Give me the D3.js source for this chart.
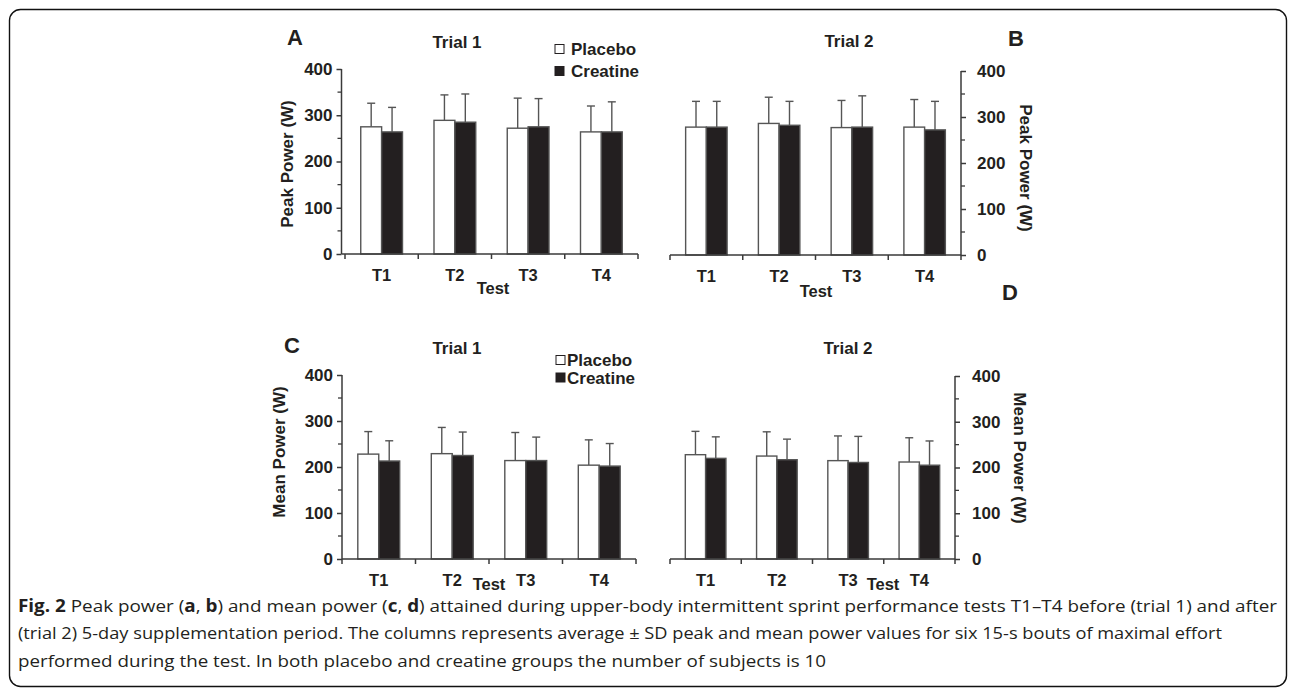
<!DOCTYPE html>
<html>
<head>
<meta charset="utf-8">
<script src="https://cdn.jsdelivr.net/npm/d3@7"></script>
<style>
  body { margin: 0; background: #fff; }
  svg text { font-family: "Liberation Sans", Arial, sans-serif; }
  .cap text { font-family: "Open Sans", sans-serif; fill: #231f20; }
</style>
</head>
<body>
<svg id="fig" width="1296" height="695"></svg>
<script>
// tests and series
var tests = ["T1", "T2", "T3", "T4"];
var groups = ["Placebo", "Creatine"];

// peak power (W), mean and mean+SD
var peakTrial1 = [[275, 264], [289, 285], [272, 275], [264, 264]];
var peakTrial1Err = [[326, 317], [344, 346], [337, 336], [320, 329]];
var peakTrial2 = [[278, 278], [286, 282], [277, 278], [278, 272]];
var peakTrial2Err = [[334, 334], [343, 334], [336, 346], [338, 334]];

// mean power (W)
var meanTrial1 = [[228, 213], [229, 225], [214, 214], [204, 202]];
var meanTrial1Err = [[277, 257], [286, 276], [275, 265], [259, 251]];
var meanTrial2 = [[228, 220], [225, 217], [215, 211], [212, 205]];
var meanTrial2Err = [[279, 267], [278, 262], [269, 268], [265, 258]];

var yTicks = [0, 100, 200, 300, 400];
var yMinor = [50, 150, 250, 350];

var svg = d3.select("#fig");
var ink = "#231f20", axisCol = "#3a3a3a";
var fs = "17px";

// rounded frame round the whole figure
svg.append("rect")
    .attr("x", 9.5).attr("y", 9.5)
    .attr("width", 1277).attr("height", 677)
    .attr("rx", 11)
    .attr("fill", "none").attr("stroke", "#111").attr("stroke-width", 1.4);

function panel(o) {
  var x = d3.scaleBand().domain(tests).range(o.xr);
  var inner = d3.scaleBand().domain(groups)
      .range([0, x.bandwidth() * 0.57]);
  var y = d3.scaleLinear().domain([0, 400]).range(o.yr);
  var off = (x.bandwidth() - inner.range()[1]) / 2;

  var g = svg.append("g");

  // bars
  tests.forEach(function(t, i) {
    groups.forEach(function(s, j) {
      var bx = x(t) + off + inner(s);
      var top = y(o.vals[i][j]);
      var errTop = y(o.errs[i][j]);
      var cx = bx + inner.bandwidth() / 2;
      // error bar (upper only)
      g.append("line")
          .attr("x1", cx).attr("x2", cx)
          .attr("y1", top).attr("y2", errTop)
          .attr("stroke", "#555").attr("stroke-width", 1.4);
      g.append("line")
          .attr("x1", cx - 4).attr("x2", cx + 4)
          .attr("y1", errTop).attr("y2", errTop)
          .attr("stroke", "#555").attr("stroke-width", 1.4);
      g.append("rect")
          .attr("x", bx).attr("y", top)
          .attr("width", inner.bandwidth())
          .attr("height", y(0) - top)
          .attr("fill", j === 0 ? "#fff" : ink)
          .attr("stroke", "#555").attr("stroke-width", 1.4);
    });
  });

  // x axis: baseline with ticks at band edges
  var y0 = y(0);
  g.append("line")
      .attr("x1", o.left ? o.yAxisX : o.xr[0]).attr("x2", o.left ? o.xr[1] : o.yAxisX)
      .attr("y1", y0).attr("y2", y0)
      .attr("stroke", axisCol).attr("stroke-width", 1.5);
  var edges = tests.map(function(t) { return x(t); }).concat([o.xr[1]]);
  edges.forEach(function(e) {
    g.append("line").attr("x1", e).attr("x2", e)
        .attr("y1", y0).attr("y2", y0 + 5)
        .attr("stroke", axisCol).attr("stroke-width", 1.5);
  });
  tests.forEach(function(t) {
    g.append("text")
        .attr("x", x(t) + x.bandwidth() / 2).attr("y", y0 + 27)
        .attr("text-anchor", "middle")
        .style("font-size", "16.5px").style("font-weight", "bold").style("fill", ink)
        .text(t);
  });
  g.append("text")
      .attr("x", o.testX).attr("y", o.testY)
      .attr("text-anchor", "middle")
      .style("font-size", "16.5px").style("font-weight", "bold").style("fill", ink)
      .text("Test");

  // y axis
  var axis = (o.left ? d3.axisLeft(y) : d3.axisRight(y))
      .tickValues(yTicks).tickSize(5).tickPadding(o.pad);
  var ya = g.append("g")
      .attr("transform", "translate(" + o.yAxisX + ",0)")
      .call(axis);
  ya.select(".domain").attr("stroke", axisCol).attr("stroke-width", 1.5)
      .attr("d", "M0," + y(400) + "V" + y(0));
  ya.selectAll(".tick line").attr("stroke", axisCol).attr("stroke-width", 1.5);
  ya.selectAll(".tick text")
      .style("font-size", fs).style("font-weight", "bold")
      .attr("fill", ink).attr("font-family", "Liberation Sans, Arial, sans-serif");
  yMinor.forEach(function(v) {
    g.append("line")
        .attr("x1", o.yAxisX).attr("x2", o.yAxisX + (o.left ? -4 : 4))
        .attr("y1", y(v)).attr("y2", y(v))
        .attr("stroke", axisCol).attr("stroke-width", 1.3);
  });
  g.append("text")
      .attr("transform", "translate(" + o.titleX + "," + o.titleY + ") rotate(" + (o.left ? -90 : 90) + ")")
      .attr("text-anchor", "middle").attr("dy", "0.35em")
      .style("font-size", fs).style("font-weight", "bold").style("fill", ink)
      .text(o.yTitle);

  // panel letter and trial title
  g.append("text")
      .attr("x", o.letterX).attr("y", o.letterY)
      .attr("text-anchor", "middle")
      .style("font-size", "22px").style("font-weight", "bold").style("fill", ink)
      .text(o.letter);
  g.append("text")
      .attr("x", o.trialX).attr("y", o.trialY)
      .attr("text-anchor", "middle")
      .style("font-size", fs).style("font-weight", "bold").style("fill", ink)
      .text(o.trial);

  // legend
  if (o.legend) {
    groups.forEach(function(s, j) {
      var ly = o.legend.y + j * o.legend.gap;
      g.append("rect")
          .attr("x", o.legend.x).attr("y", ly - 4.5)
          .attr("width", 9).attr("height", 9)
          .attr("fill", j === 0 ? "#fff" : ink)
          .attr("stroke", ink).attr("stroke-width", 1);
      g.append("text")
          .attr("x", o.legend.tx).attr("y", ly).attr("dy", "0.36em")
          .style("font-size", fs).style("font-weight", "bold").style("fill", ink)
          .text(s);
    });
  }
}

panel({ xr: [345, 638], yr: [254, 69], yAxisX: 341.5, left: true, pad: 4,
  vals: peakTrial1, errs: peakTrial1Err, yTitle: "Peak Power (W)",
  titleX: 287, titleY: 164, letter: "A", letterX: 295, letterY: 45,
  trial: "Trial 1", trialX: 457, trialY: 48, testX: 493, testY: 294,
  legend: { x: 555, tx: 571, y: 49, gap: 22 } });

panel({ xr: [670, 961], yr: [255, 71], yAxisX: 961, left: false, pad: 11,
  vals: peakTrial2, errs: peakTrial2Err, yTitle: "Peak Power (W)",
  titleX: 1026, titleY: 168, letter: "B", letterX: 1016, letterY: 46,
  trial: "Trial 2", trialX: 849, trialY: 47, testX: 816, testY: 297 });

panel({ xr: [342, 636], yr: [559, 375], yAxisX: 342, left: true, pad: 4,
  vals: meanTrial1, errs: meanTrial1Err, yTitle: "Mean Power (W)",
  titleX: 279, titleY: 452, letter: "C", letterX: 292, letterY: 353,
  trial: "Trial 1", trialX: 457, trialY: 354, testX: 489, testY: 590,
  legend: { x: 556, tx: 567, y: 360, gap: 17.5 } });

panel({ xr: [670, 955], yr: [559, 376], yAxisX: 955, left: false, pad: 12,
  vals: meanTrial2, errs: meanTrial2Err, yTitle: "Mean Power (W)",
  titleX: 1020, titleY: 458, letter: "D", letterX: 1010, letterY: 300,
  trial: "Trial 2", trialX: 848, trialY: 354, testX: 883, testY: 590 });

// caption
var cap = svg.append("g").attr("class", "cap").style("font-size", "17px");
var l1 = cap.append("text").attr("x", 18).attr("y", 612)
    .attr("textLength", 1259).attr("lengthAdjust", "spacingAndGlyphs");
l1.append("tspan").style("font-weight", "bold").text("Fig. 2");
l1.append("tspan").text(" Peak power (");
l1.append("tspan").style("font-weight", "bold").text("a");
l1.append("tspan").text(", ");
l1.append("tspan").style("font-weight", "bold").text("b");
l1.append("tspan").text(") and mean power (");
l1.append("tspan").style("font-weight", "bold").text("c");
l1.append("tspan").text(", ");
l1.append("tspan").style("font-weight", "bold").text("d");
l1.append("tspan").text(") attained during upper-body intermittent sprint performance tests T1\u2013T4 before (trial 1) and after");
cap.append("text").attr("x", 18).attr("y", 639)
    .attr("textLength", 1204).attr("lengthAdjust", "spacingAndGlyphs")
    .text("(trial 2) 5-day supplementation period. The columns represents average \u00b1 SD peak and mean power values for six 15-s bouts of maximal effort");
cap.append("text").attr("x", 18).attr("y", 667)
    .attr("textLength", 808).attr("lengthAdjust", "spacingAndGlyphs")
    .text("performed during the test. In both placebo and creatine groups the number of subjects is 10");
</script>
</body>
</html>
